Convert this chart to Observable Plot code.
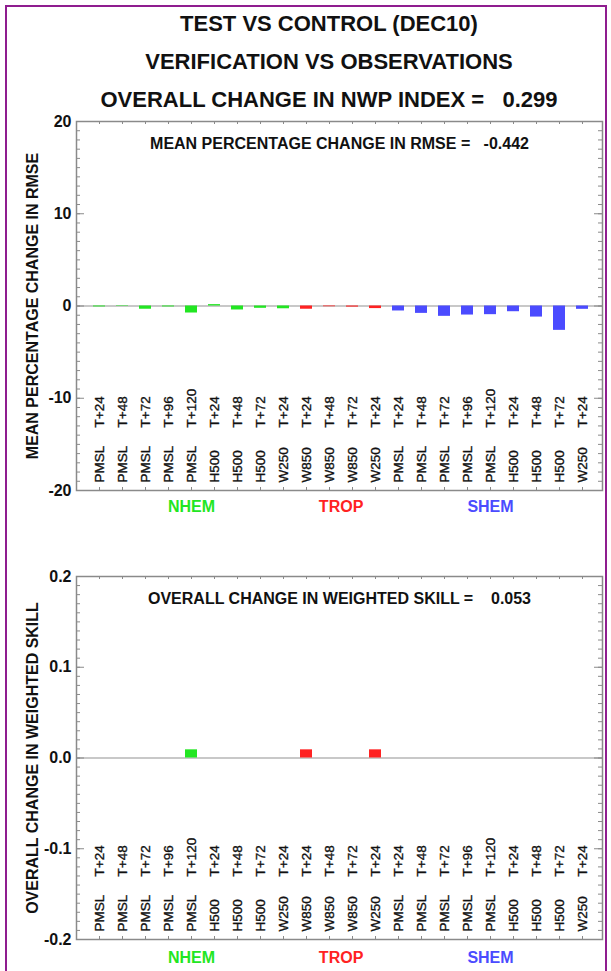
<!DOCTYPE html>
<html>
<head>
<meta charset="utf-8">
<script src="https://cdn.jsdelivr.net/npm/d3@7"></script>
<script src="https://cdn.jsdelivr.net/npm/@observablehq/plot@0.6"></script>
<style>
  body { margin: 0; background: #fff; font-family: "Liberation Sans", Arial, Helvetica, sans-serif; }
  #page { position: relative; width: 611px; height: 971px; overflow: hidden; background: #fff; }
  #border { position: absolute; left: 5px; top: 5px; width: 598px; height: 1000px; border: 2px solid #8f1d8f; }
  .title { position: absolute; left: 29px; width: 600px; text-align: center; font-size: 22px; font-weight: bold;
           line-height: 26px; white-space: pre; color: #111; }
  .panel { position: absolute; left: 0; }
  .panel svg { overflow: visible; }
</style>
</head>
<body>
<div id="page">
  <div id="border"></div>
  <div class="title" id="t1" style="top:11px"></div>
  <div class="title" id="t2" style="top:49px"></div>
  <div class="title" id="t3" style="top:87px"></div>
  <div class="panel" id="rmsePanel" style="top:110px"></div>
  <div class="panel" id="skillPanel" style="top:560px"></div>
</div>
<script>
// Verification categories: region, field and forecast lead time
const regions = ["NHEM","NHEM","NHEM","NHEM","NHEM","NHEM","NHEM","NHEM","NHEM",
                 "TROP","TROP","TROP","TROP",
                 "SHEM","SHEM","SHEM","SHEM","SHEM","SHEM","SHEM","SHEM","SHEM"];
const fields  = ["PMSL","PMSL","PMSL","PMSL","PMSL","H500","H500","H500","W250",
                 "W850","W850","W850","W250",
                 "PMSL","PMSL","PMSL","PMSL","PMSL","H500","H500","H500","W250"];
const leads   = ["T+24","T+48","T+72","T+96","T+120","T+24","T+48","T+72","T+24",
                 "T+24","T+48","T+72","T+24",
                 "T+24","T+48","T+72","T+96","T+120","T+24","T+48","T+72","T+24"];

// Mean percentage change in RMSE, per category
const rmseChange = [-0.10, -0.05, -0.35, -0.10, -0.76, 0.15, -0.43, -0.25, -0.30,
                    -0.35, -0.08, -0.12, -0.28,
                    -0.54, -0.80, -1.12, -0.98, -0.94, -0.62, -1.20, -2.64, -0.36];

// Change in weighted skill, per category
const skillChange = [0, 0, 0, 0, 0.009, 0, 0, 0, 0,
                     0.009, 0, 0, 0.009,
                     0, 0, 0, 0, 0, 0, 0, 0, 0];

// Headline scores
const experiment = "TEST VS CONTROL (DEC10)";
const verification = "VERIFICATION VS OBSERVATIONS";
const nwpIndexChange = 0.299;
const meanRmseChange = -0.442;
const overallSkillChange = 0.053;

const regionColors = { NHEM: "#22e622", TROP: "#ff2222", SHEM: "#4b4bff" };
const groupNames = ["NHEM", "TROP", "SHEM"];

const nb = n => "\u00a0".repeat(n);

document.getElementById("t1").textContent = experiment;
document.getElementById("t2").textContent = verification;
document.getElementById("t3").textContent = `OVERALL CHANGE IN NWP INDEX =${nb(3)}${nwpIndexChange.toFixed(3)}`;

const rows = regions.map((r, i) => ({
  i, region: r, field: fields[i], lead: leads[i], id: `${r} ${fields[i]} ${leads[i]}`
}));
const ids = rows.map(d => d.id);

// Group label sits under the middle of each region's run of categories
const groups = groupNames.map(g => {
  const members = rows.filter(d => d.region === g);
  const mid = members[Math.floor((members.length - 1) / 2)];
  return { name: g, id: mid.id, shift: members.length % 2 === 0 ? 0.5 : 0 };
});

const W = 611, ML = 76, MR = 9;
const plotW = W - ML - MR;
const FONT = "Liberation Sans, Arial, Helvetica, sans-serif";
const xScale = { type: "band", domain: ids, paddingInner: 0.5, paddingOuter: 0.614, align: 0.535 };
const step = plotW / (ids.length - xScale.paddingInner + 2 * xScale.paddingOuter);

function panel({ values, domain, majors, minorStep, format, yTitle, note, height, marginTop, marginBottom, groupDy }) {
  const plotH = height - marginTop - marginBottom;
  const minors = d3.range(domain[0], domain[1] + minorStep / 2, minorStep);
  const edge = { stroke: "#8a8a8a", strokeWidth: 1 };
  const catText = { frameAnchor: "bottom", rotate: -90, textAnchor: "start", lineAnchor: "middle",
                    fontSize: 13.5, fill: "#111", stroke: "#111", strokeWidth: 0.35 };
  return Plot.plot({
    width: W, height, marginLeft: ML, marginRight: MR, marginTop, marginBottom,
    style: { fontFamily: FONT, background: "transparent", color: "#111" },
    x: { ...xScale, axis: null },
    y: { domain, axis: null },
    marks: [
      Plot.ruleY([0], { stroke: "#c8c8c8", strokeWidth: 2 }),
      Plot.barY(rows, { x: "id", y: d => values[d.i], fill: d => regionColors[d.region] }),
      // inward minor and major ticks on both vertical edges
      Plot.tickY(minors, { y: d => d, ...edge, insetRight: plotW - 4 }),
      Plot.tickY(minors, { y: d => d, ...edge, insetLeft: plotW - 4 }),
      Plot.tickY(majors, { y: d => d, ...edge, insetRight: plotW - 8 }),
      Plot.tickY(majors, { y: d => d, ...edge, insetLeft: plotW - 8 }),
      // category ticks on top and bottom edges
      Plot.tickX(rows, { x: "id", ...edge, insetBottom: plotH - 3 }),
      Plot.tickX(rows, { x: "id", ...edge, insetTop: plotH - 3 }),
      Plot.frame({ stroke: "#8a8a8a", strokeWidth: 1.5 }),
      // y tick labels
      Plot.text(majors, { y: d => d, text: format, frameAnchor: "left", textAnchor: "end",
                          lineAnchor: "middle", dx: -5, fontSize: 16, fontWeight: "bold" }),
      // y axis title
      Plot.text([yTitle], { text: d => d, frameAnchor: "left", textAnchor: "middle", lineAnchor: "middle",
                            rotate: -90, dx: -44, fontSize: 16, fontWeight: "bold" }),
      // headline inside the frame
      Plot.text([note], { text: d => d, frameAnchor: "top", textAnchor: "middle", lineAnchor: "middle",
                          dy: 22, fontSize: 16, fontWeight: "bold" }),
      // category labels, written upward from the bottom edge
      Plot.text(rows, { x: "id", text: "field", dy: -8, ...catText }),
      Plot.text(rows, { x: "id", text: "lead", dy: -63, ...catText }),
      // region names under the frame
      ...groups.map(g => Plot.text([g], {
        x: "id", text: "name", dx: g.shift * step, dy: groupDy, frameAnchor: "bottom",
        lineAnchor: "middle", textAnchor: "middle",
        fill: regionColors[g.name], fontSize: 16, fontWeight: "bold"
      }))
    ]
  });
}

document.getElementById("rmsePanel").append(panel({
  values: rmseChange,
  domain: [-20, 20],
  majors: [-20, -10, 0, 10, 20],
  minorStep: 1,
  format: d => String(d),
  yTitle: "MEAN PERCENTAGE CHANGE IN RMSE",
  note: `MEAN PERCENTAGE CHANGE IN RMSE =${nb(3)}${meanRmseChange.toFixed(3)}`,
  height: 420, marginTop: 11, marginBottom: 40, groupDy: 16
}));

document.getElementById("skillPanel").append(panel({
  values: skillChange,
  domain: [-0.2, 0.2],
  majors: [-0.2, -0.1, 0, 0.1, 0.2],
  minorStep: 0.01,
  format: d => d.toFixed(1),
  yTitle: "OVERALL CHANGE IN WEIGHTED SKILL",
  note: `OVERALL CHANGE IN WEIGHTED SKILL =${nb(4)}${overallSkillChange.toFixed(3)}`,
  height: 411, marginTop: 16, marginBottom: 32, groupDy: 18
}));
</script>
</body>
</html>
